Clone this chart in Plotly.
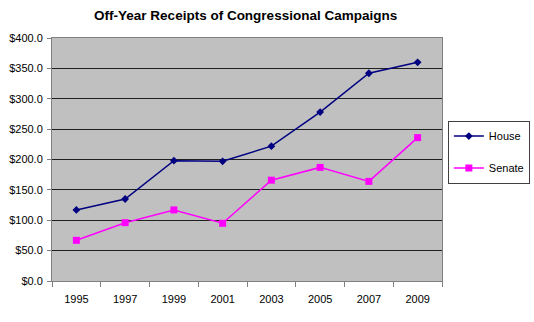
import plotly.graph_objects as go

years = ["1995", "1997", "1999", "2001", "2003", "2005", "2007", "2009"]
house = [117, 135, 198, 197, 222, 278, 342, 360]
senate = [67, 96, 117, 95, 166, 187, 164, 236]
y_ticks = [0, 50, 100, 150, 200, 250, 300, 350, 400]

fig = go.Figure()
fig.add_trace(go.Scatter(
    x=years, y=house, name="House", mode="lines+markers",
    line=dict(color="#000080", width=1.5),
    marker=dict(symbol="diamond", size=6, color="#000080"),
    legendgroup="a",
))
fig.add_trace(go.Scatter(
    x=years, y=senate, name="Senate", mode="lines+markers",
    line=dict(color="#FF00FF", width=1.5),
    marker=dict(symbol="square", size=7, color="#FF00FF"),
    legendgroup="b",
))

fig.update_layout(
    width=534, height=322,
    margin=dict(l=52, r=92, t=38, b=41, autoexpand=False),
    paper_bgcolor="white",
    plot_bgcolor="#C0C0C0",
    font=dict(family="Arial, Liberation Sans, sans-serif", size=11, color="black"),
    title=dict(text="<b>Off-Year Receipts of Congressional Campaigns</b>",
               x=0.46, xanchor="center", y=0.953, yanchor="middle",
               font=dict(size=13.5, color="black"), automargin=False),
    showlegend=True,
    legend=dict(x=1.015, xanchor="left", y=0.66, yanchor="top",
                bordercolor="#404040", borderwidth=1, bgcolor="white",
                traceorder="grouped", tracegroupgap=13,
                font=dict(size=11), itemwidth=30),
    xaxis=dict(type="category", range=[-0.5, 7.5], tickson="boundaries",
               ticks="outside", ticklen=5, tickcolor="#808080",
               showline=True, linecolor="#808080", linewidth=1, mirror=True,
               showgrid=False, ticklabelstandoff=8, automargin=False),
    yaxis=dict(range=[0, 400], tickvals=y_ticks, tickformat="$.1f",
               ticks="outside", ticklen=4, tickcolor="#808080",
               showline=True, linecolor="#808080", linewidth=1, mirror=True,
               showgrid=True, gridcolor="#202020", gridwidth=1,
               zeroline=False, ticklabelstandoff=2, automargin=False),
)

fig.write_html("out.html", config={"displayModeBar": False},
               post_script="document.body.style.margin='0';")
